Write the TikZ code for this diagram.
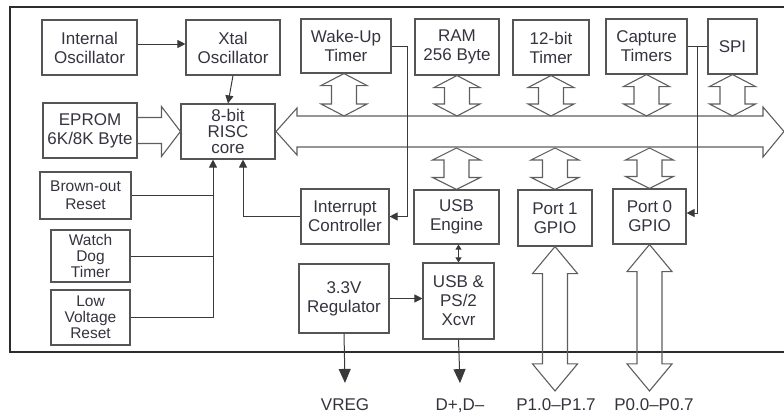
\documentclass[tikz,border=0pt]{standalone}
\usepackage{fontspec}
\setmainfont{Liberation Sans}
\usetikzlibrary{arrows.meta, calc}
\definecolor{inkgray}{HTML}{34343F}
\definecolor{boxgray}{HTML}{555555}
\definecolor{linegray}{HTML}{3A3A3A}
\definecolor{busgray}{HTML}{5E5E5E}
\definecolor{framegray}{HTML}{2C2C2C}

% hollow double arrow, vertical: top point, bottom point, head half width, shaft half width, head length
\newcommand{\vdouble}[5]{%
  \draw[busline] let \p1=(#1), \p2=(#2) in
    (\x1,\y1) -- (\x1-#3pt,\y1-#5pt) -- (\x1-#4pt,\y1-#5pt) -- (\x1-#4pt,\y2+#5pt)
    -- (\x1-#3pt,\y2+#5pt) -- (\x1,\y2) -- (\x1+#3pt,\y2+#5pt) -- (\x1+#4pt,\y2+#5pt)
    -- (\x1+#4pt,\y1-#5pt) -- (\x1+#3pt,\y1-#5pt) -- cycle;}

\begin{document}
\begin{tikzpicture}[x=1pt, y=-1pt,
  blk/.style={draw=boxgray, line width=1.1pt, inner sep=0pt, align=center,
    text=inkgray, font=\fontsize{17}{19}\selectfont},
  smallblk/.style={blk, font=\fontsize{15.5}{16}\selectfont},
  sig/.style={draw=linegray, line width=1pt},
  sigarrow/.style={sig, -{Triangle[length=8pt, width=8pt]}},
  bigarrow/.style={sig, -{Triangle[length=14pt, width=12pt]}},
  busline/.style={draw=busgray, line width=1.1pt},
  pinlbl/.style={text=inkgray, inner sep=0pt, font=\fontsize{17}{19}\selectfont}]

\clip (0,0) rectangle (784,415);

% Chip outline
\draw[framegray, line width=2pt] (10,7) rectangle (800,352);

% =========== TOP ROW ===========
\node[blk, minimum width=95, minimum height=55] (intosc) at (89.5,47.5) {Internal\\Oscillator};
\node[blk, minimum width=94, minimum height=55] (xtal) at (233,47.5) {Xtal\\Oscillator};
\node[blk, minimum width=90, minimum height=54] (wakeup) at (346,46) {Wake-Up\\Timer};
\node[blk, minimum width=84, minimum height=56] (ram) at (457,47) {RAM\\256 Byte};
\node[blk, minimum width=76, minimum height=55] (tmr12) at (551,47.5) {12-bit\\Timer};
\node[blk, minimum width=81, minimum height=55] (capture) at (646.5,46.5) {Capture\\Timers};
\node[blk, minimum width=49, minimum height=55] (spi) at (732.5,46.5) {SPI};

% =========== CORE ROW ===========
\node[blk, minimum width=94, minimum height=55] (eprom) at (90,130.5) {EPROM\\6K/8K Byte};
\node[blk, minimum width=94, minimum height=55, font=\fontsize{17}{16}\selectfont] (risc) at (228,131.5) {8-bit\\RISC\\core};

% =========== RESET SOURCES ===========
\node[blk, minimum width=91, minimum height=47, font=\fontsize{15.5}{18}\selectfont] (brown) at (85.5,195.5) {Brown-out\\Reset};
\node[smallblk, minimum width=79, minimum height=52] (wdt) at (90.5,256) {Watch\\Dog\\Timer};
\node[smallblk, minimum width=79, minimum height=55] (lvr) at (90.5,317.5) {Low\\Voltage\\Reset};

% =========== LOWER ROW ===========
\node[blk, minimum width=88, minimum height=55] (intc) at (345,216.5) {Interrupt\\Controller};
\node[blk, minimum width=85, minimum height=54] (usbeng) at (456.5,217) {USB\\Engine};
\node[blk, minimum width=74, minimum height=56] (port1) at (555,218) {Port 1\\GPIO};
\node[blk, minimum width=73, minimum height=55] (port0) at (649.5,216.5) {Port 0\\GPIO};
\node[blk, minimum width=90, minimum height=69] (reg) at (344,298.5) {3.3V\\Regulator};
\node[blk, minimum width=71, minimum height=76] (xcvr) at (458.5,301) {USB \&\\PS/2\\Xcvr};

% Pin labels
\node[pinlbl, anchor=base] (vreg) at (345,410) {VREG};
\node[pinlbl, anchor=base] (dpm) at (460,410) {D+,D--};
\node[pinlbl, anchor=base] (p1pins) at (556,410) {P1.0--P1.7};
\node[pinlbl, anchor=base] (p0pins) at (654,410) {P0.0--P0.7};

% =========== DATA BUS ===========
\coordinate (busL) at (276,131.5);
\coordinate (busR) at (784,131.5);
\coordinate (bustop) at (0,116);
\coordinate (busbot) at (0,148);
\draw[busline] let \p1=(busL), \p2=(busR) in
  (\x1,\y1) -- (\x1+21pt,\y1+23.5pt) -- (\x1+21pt,\y1+15.5pt) -- (\x2-21pt,\y1+15.5pt)
  -- (\x2-21pt,\y1+24.5pt) -- (\x2,\y1) -- (\x2-21pt,\y1-25.5pt) -- (\x2-21pt,\y1-15.5pt)
  -- (\x1+21pt,\y1-15.5pt) -- (\x1+21pt,\y1-23.5pt) -- cycle;

% Peripherals to bus
\vdouble{[xshift=-2pt]wakeup.south}{[xshift=-2pt]wakeup.south |- bustop}{23}{12.5}{12}
\foreach \blk in {ram, tmr12, capture, spi} {
  \vdouble{\blk.south}{\blk.south |- bustop}{23}{12.5}{12}
}
% Bus to lower blocks
\foreach \blk in {usbeng, port1, port0} {
  \vdouble{\blk.north |- busbot}{\blk.north}{24}{12.5}{12}
}

% Port pins
\vdouble{port1.south}{[yshift=7pt]p1pins.north}{22.5}{12.5}{27}
\vdouble{port0.south}{[yshift=7pt]p0pins.north}{22.5}{12.5}{27}

% EPROM to core
\draw[busline] let \p1=(eprom.east), \p2=(risc.west) in
  (\x1,\y1+13pt) -- (\x2-19pt,\y1+13pt) -- (\x2-19pt,\y1+24pt) -- (\x2,\y2)
  -- (\x2-19pt,\y1-26pt) -- (\x2-19pt,\y1-13pt) -- (\x1,\y1-13pt);

% =========== SIGNALS ===========
\draw[sigarrow] (intosc.east |- 0,44) -- (xtal.west |- 0,44);
\draw[sigarrow] (xtal.south) -- (risc.north);

% Reset sources
\coordinate (rstin) at ([xshift=-15pt]risc.south);
\draw[sigarrow] (lvr.east) -| (rstin);
\draw[sig] (brown.east) -- (brown.east -| rstin);
\draw[sig] (wdt.east) -- (wdt.east -| rstin);

% Interrupts
\draw[sigarrow] (intc.west) -| ([xshift=15pt]risc.south);
\draw[sigarrow] (wakeup.east) -- ++(16,0) |- (intc.east);
\draw[sig] (capture.east) -- (spi.west);
\draw[sigarrow] (capture.east) ++(10,0) |- ([yshift=3.5pt]port0.east);

% USB
\draw[sig, {Triangle[length=5pt, width=6pt]}-{Triangle[length=5pt, width=6pt]}] ([xshift=2pt]usbeng.south) -- ([xshift=2pt]usbeng.south |- xcvr.north);
\draw[sigarrow] (reg.east) -- (xcvr.west |- reg.east);
\draw[bigarrow] (reg.south) -- ([yshift=15pt]vreg.north);
\draw[bigarrow] (xcvr.south) -- ([yshift=15pt]dpm.north);

\end{tikzpicture}
\end{document}
